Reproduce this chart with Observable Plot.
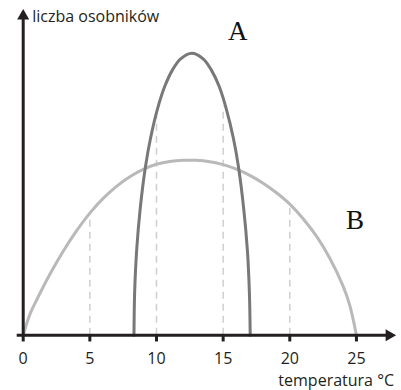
<!DOCTYPE html>
<html>
<head>
<meta charset="utf-8">
<script src="https://cdn.jsdelivr.net/npm/d3@7"></script>
<script src="https://cdn.jsdelivr.net/npm/@observablehq/plot@0.6"></script>
<style>
  html, body { margin: 0; padding: 0; background: #fff; }
</style>
</head>
<body>
<div id="chart"></div>
<script>
// Curve A (narrow tolerance)
const tempA  = [8.31, 8.36, 8.51, 8.78, 9.18, 9.56, 10.06, 10.6, 11.19, 11.81, 12.65, 13.5, 14.12, 14.72, 15.25, 15.76, 16.14, 16.54, 16.82, 16.97, 17.03];
const countA = [0, 15, 30, 45, 60, 70, 80, 88, 94, 98, 100, 98, 94, 88, 80, 70, 60, 45, 30, 15, 0];
// Curve B (wide tolerance)
const tempB  = [0, 0.5, 1, 2, 3, 4, 5, 6, 7, 8, 9, 10, 11, 12, 13, 14, 15, 16, 17, 18, 19, 20, 21, 22, 23, 24, 24.5, 25];
const countB = [0, 7.4, 12.4, 21.6, 29.8, 37.0, 43.3, 48.5, 52.8, 56.2, 58.8, 60.6, 61.6, 62.0, 62.0, 61.5, 60.5, 58.9, 56.7, 53.9, 50.5, 46.5, 41.3, 35.1, 27.3, 17.4, 10.6, 0];
// Dashed guide lines
const guideX   = [5, 10, 15, 20];
const guideTop = [43.3, 79, 81, 46.5];
// Axis ticks
const tickValues = [0, 5, 10, 15, 20, 25];
const tickLabels = ["0", "5", "10", "15", "20", "25"];
// Labels
const xTitle = "temperatura \u00B0C";
const yTitle = "liczba osobników";
const seriesLabels = [{name: "A", x: 16.1, y: 107.6}, {name: "B", x: 24.9, y: 40.6}];

const A = tempA.map((t, i) => ({t, c: countA[i]}));
const B = tempB.map((t, i) => ({t, c: countB[i]}));
const guides = guideX.map((t, i) => ({t, top: guideTop[i]}));
const ticks = tickValues.map((t, i) => ({t, label: tickLabels[i]}));

const axisColor = "#231f20";
const sans = "'Open Sans', 'Noto Sans', sans-serif";

const chart = Plot.plot({
  width: 401,
  height: 390,
  marginLeft: 22.7,
  marginRight: 18.4,
  marginTop: 52.7,
  marginBottom: 55.3,
  x: {domain: [0, 27], axis: null},
  y: {domain: [0, 100], axis: null},
  style: {background: "#fff", overflow: "visible"},
  marks: [
    Plot.ruleX(guides, {x: "t", y1: 0, y2: "top", stroke: "#cfcfcf", strokeWidth: 1.5, strokeDasharray: "7,5"}),
    Plot.line(B, {x: "t", y: "c", curve: "catmull-rom", stroke: "#b9b9b9", strokeWidth: 3}),
    Plot.line(A, {x: "t", y: "c", curve: "catmull-rom", stroke: "#787878", strokeWidth: 3}),
    // axes
    Plot.ruleY([0], {x1: -0.45, x2: 27.3, stroke: axisColor, strokeWidth: 3}),
    Plot.dot([0], {x: 27.45, y: 0, symbol: "triangle", rotate: 90, r: 4.5, fill: axisColor, stroke: null}),
    Plot.ruleX([0], {y1: 0, y2: 112, stroke: axisColor, strokeWidth: 3}),
    Plot.dot([0], {x: 0, y: 113.2, symbol: "triangle", r: 4.5, fill: axisColor, stroke: null}),
    Plot.ruleX(ticks, {x: "t", y1: 0, y2: -2.4, stroke: axisColor, strokeWidth: 3}),
    Plot.text(ticks, {x: "t", y: 0, dy: 23.5, text: "label", fontSize: 16, fontFamily: sans, fill: axisColor}),
    Plot.text([xTitle], {x: 27, y: 0, dx: 11, dy: 45.5, text: d => d, textAnchor: "end", fontSize: 16, fontFamily: sans, fill: axisColor}),
    Plot.text([yTitle], {x: 0, y: 113.2, dx: 9, dy: 1, text: d => d, textAnchor: "start", fontSize: 16, fontFamily: sans, fill: axisColor}),
    Plot.text(seriesLabels, {x: "x", y: "y", text: "name", fontSize: 27, fontFamily: "'Liberation Serif', 'DejaVu Serif', serif", fill: "#111"})
  ]
});
document.getElementById("chart").appendChild(chart);
</script>
</body>
</html>
